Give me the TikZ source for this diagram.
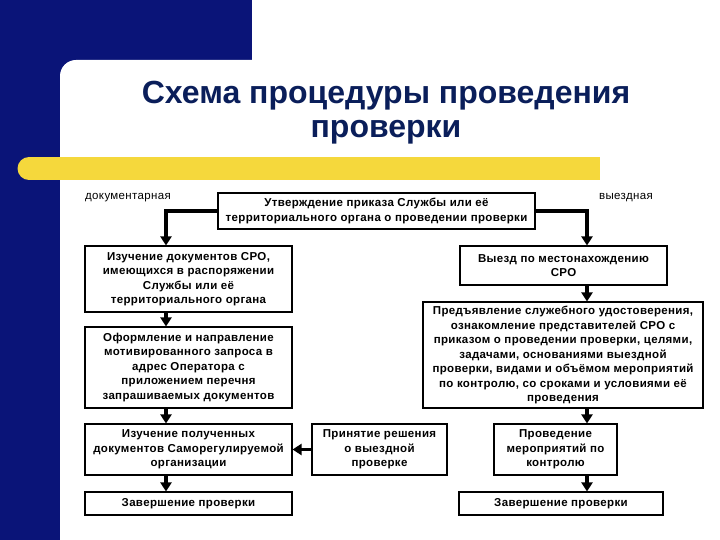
\documentclass[tikz,border=0pt]{standalone}
\usepackage{fontspec}
\setmainfont{Liberation Sans}
\newfontfamily\boxfont[LetterSpace=3]{Liberation Sans}
\usetikzlibrary{arrows.meta}

\definecolor{navy}{RGB}{10,20,120}
\definecolor{titleblue}{RGB}{10,30,90}
\definecolor{band}{RGB}{245,216,60}

\begin{document}
\begin{tikzpicture}[x=1pt,y=-1pt,
	box/.style={draw, line width=1.1pt, align=center, inner sep=0pt,
		font=\boxfont\bfseries\fontsize{11.5}{14.5}\selectfont},
	arr/.style={line width=3.6pt, -{Triangle[width=11pt,length=9pt]}},
	lbl/.style={font=\boxfont\fontsize{11.5}{13}\selectfont}]

\useasboundingbox (0,0) rectangle (720,540);
\fill[white] (0,0) rectangle (720,540);
\fill[navy] (0,0) rectangle (252,75);
\fill[navy] (0,0) rectangle (75,540);
\fill[white, rounded corners=16pt] (60,60) rectangle (740,560);

\fill[band] (29,157) rectangle (600,180);
\fill[band] (29,168.5) circle (11.5pt);

\node[titleblue, align=center, font=\bfseries\fontsize{32}{34}\selectfont] (title) at (386,113)
	{Схема процедуры проведения\\проверки};

\node[lbl] (ldoc) at (128,198) {документарная};
\node[lbl] (lvis) at (626,198) {выездная};

\node[box, minimum width=317pt, minimum height=36pt] (top) at (376.5,211)
	{Утверждение приказа Службы или её\\территориального органа о проведении проверки};

\node[box, minimum width=207pt, minimum height=66pt] (doc1) at (188.5,279)
	{Изучение документов СРО,\\имеющихся в распоряжении\\Службы или её\\территориального органа};
\node[box, minimum width=207pt, minimum height=81pt] (doc2) at (188.5,367.5)
	{Оформление и направление\\мотивированного запроса в\\адрес Оператора с\\приложением перечня\\запрашиваемых документов};
\node[box, minimum width=207pt, minimum height=51pt] (doc3) at (188.5,449.5)
	{Изучение полученных\\документов Саморегулируемой\\организации};
\node[box, minimum width=207pt, minimum height=23pt] (doc4) at (188.5,503.5)
	{Завершение проверки};

\node[box, minimum width=135pt, minimum height=51pt] (mid) at (379.5,449.5)
	{Принятие решения\\о выездной\\проверке};

\node[box, minimum width=207pt, minimum height=39pt] (vis1) at (563.5,265.5)
	{Выезд по местонахождению\\СРО};
\node[box, minimum width=280pt, minimum height=106pt] (vis2) at (563,355)
	{Предъявление служебного удостоверения,\\ознакомление представителей СРО с\\приказом о проведении проверки, целями,\\задачами, основаниями выездной\\проверки, видами и объёмом мероприятий\\по контролю, со сроками и условиями её\\проведения};
\node[box, minimum width=123pt, minimum height=51pt] (vis3) at (555.5,449.5)
	{Проведение\\мероприятий по\\контролю};
\node[box, minimum width=204pt, minimum height=23pt] (vis4) at (561,503.5)
	{Завершение проверки};

\coordinate (dx) at (166,0);
\coordinate (vx) at (587,0);

\draw[arr] (top.west) -| (dx |- doc1.north);
\foreach \a/\b in {doc1/doc2,doc2/doc3,doc3/doc4}{
	\draw[arr] (dx |- \a.south) -- (dx |- \b.north);
}

\draw[arr] (top.east) -| (vx |- vis1.north);
\foreach \a/\b in {vis1/vis2,vis2/vis3,vis3/vis4}{
	\draw[arr] (vx |- \a.south) -- (vx |- \b.north);
}

\draw[arr] (mid.west) -- (doc3.east);

\end{tikzpicture}
\end{document}
